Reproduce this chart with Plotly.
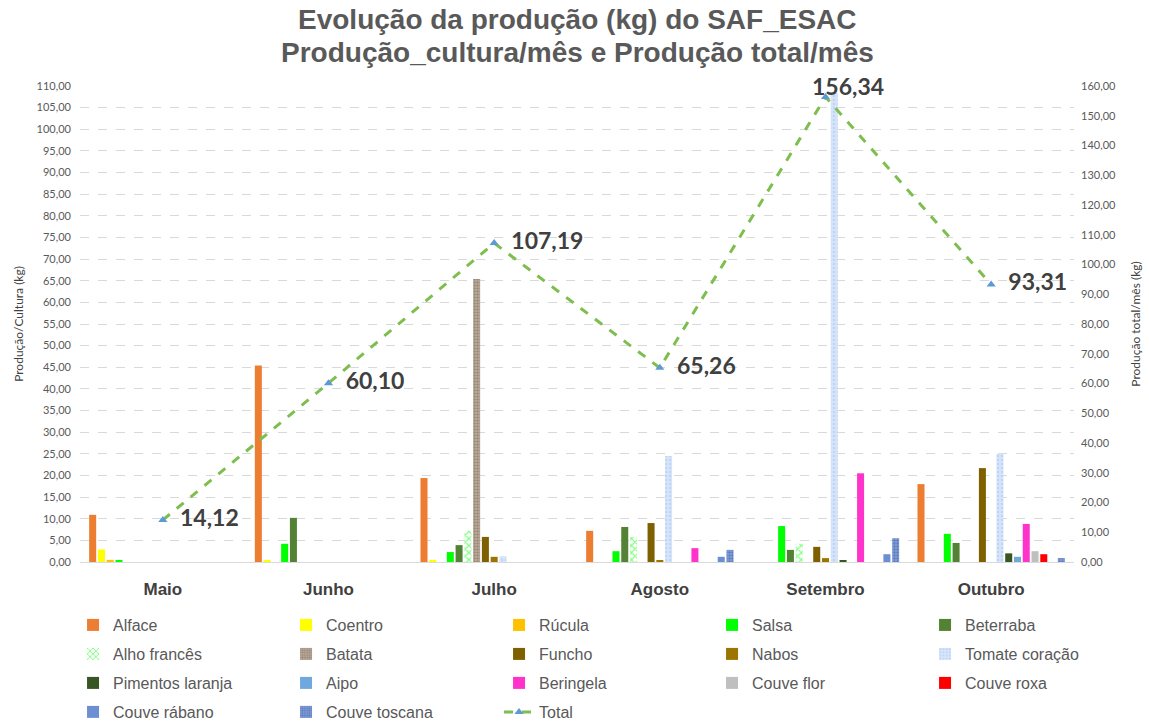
import plotly.graph_objects as go

meses = ["Maio", "Junho", "Julho", "Agosto", "Setembro", "Outubro"]

culturas = [
    "Alface", "Coentro", "Rúcula", "Salsa", "Beterraba", "Alho francês",
    "Batata", "Funcho", "Nabos", "Tomate coração", "Pimentos laranja",
    "Aipo", "Beringela", "Couve flor", "Couve roxa", "Couve rábano",
    "Couve toscana",
]

# kg por cultura, por mês (Maio..Outubro)
alface = [10.9, 45.4, 19.4, 7.2, 0, 18.0]
coentro = [2.9, 0.3, 0.3, 0, 0, 0]
rucula = [0.5, 0, 0, 0, 0, 0]
salsa = [0.3, 4.2, 2.3, 2.5, 8.3, 6.5]
beterraba = [0, 10.2, 3.9, 8.1, 2.8, 4.4]
alho_frances = [0, 0, 7.2, 5.8, 4.2, 0]
batata = [0, 0, 65.4, 0, 0, 0]
funcho = [0, 0, 5.8, 9.0, 3.5, 21.7]
nabos = [0, 0, 1.2, 0.3, 0.9, 0]
tomate = [0, 0, 1.3, 24.5, 108.4, 25.0]
pimentos = [0, 0, 0, 0, 0.3, 2.0]
aipo = [0, 0, 0, 0, 0, 1.2]
beringela = [0, 0, 0, 3.2, 20.5, 8.8]
couve_flor = [0, 0, 0, 0, 0, 2.5]
couve_roxa = [0, 0, 0, 0, 0, 1.8]
couve_rabano = [0, 0, 0, 1.2, 1.8, 0]
couve_toscana = [0, 0, 0, 2.8, 5.5, 0.9]

total = [14.12, 60.10, 107.19, 65.26, 156.34, 93.31]

titulo = [
    "Evolução da produção (kg) do SAF_ESAC",
    "Produção_cultura/mês e Produção total/mês",
]

valores = [
    alface, coentro, rucula, salsa, beterraba, alho_frances, batata, funcho,
    nabos, tomate, pimentos, aipo, beringela, couve_flor, couve_roxa,
    couve_rabano, couve_toscana,
]

cores = [
    "#ED7D31", "#FFFF00", "#FFC000", "#00FF00", "#548235", "#00FF00",
    "#A89584", "#7F6000", "#9C7400", "#C9DAF8", "#375623", "#6FA8DC",
    "#FF33CC", "#BFBFBF", "#FF0000", "#6C8FD3", "#4472C4",
]

# padrões de preenchimento (como no Excel)
padroes = {
    "Alho francês": dict(shape="x", fgcolor="#00FF00", bgcolor="white", size=5, solidity=0.4),
    "Batata": dict(shape=".", fgcolor="#6E5E50", bgcolor="#B8A898", size=3, solidity=0.4),
    "Tomate coração": dict(shape=".", fgcolor="#A9C4F0", bgcolor="#D6E4FA", size=4, solidity=0.3),
    "Couve toscana": dict(shape=".", fgcolor="#2F528F", bgcolor="#7D9BD8", size=3, solidity=0.4),
}

# legenda em 4 linhas de 5 itens, como no Excel
legend_ids = ["legend", "legend2", "legend3", "legend4"]

label_font = dict(family="Lato", size=23, color="#404040", weight="bold")

fig = go.Figure()

for i, (nome, vals, cor) in enumerate(zip(culturas, valores, cores)):
    marker = dict(color=cor, line=dict(width=0))
    if nome in padroes:
        marker["pattern"] = padroes[nome]
    fig.add_trace(go.Bar(
        x=meses,
        y=vals,
        name=nome,
        marker=marker,
        yaxis="y",
        legend=legend_ids[i // 5],
    ))

# o rótulo de Setembro fica acima do ponto (anotação abaixo)
i_max = total.index(max(total))
templates = ["  %{y:.2f}"] * len(total)
templates[i_max] = ""

fig.add_trace(go.Scatter(
    x=meses,
    y=total,
    name="Total",
    mode="lines+markers+text",
    yaxis="y2",
    legend="legend4",
    line=dict(color="#7DBE4E", width=3, dash="dash"),
    marker=dict(symbol="triangle-up", size=8, color="#5B9BD5"),
    texttemplate=templates,
    textposition="middle right",
    textfont=label_font,
    cliponaxis=False,
))

legend_style = dict(
    orientation="h",
    x=-0.007,
    xanchor="left",
    yanchor="middle",
    entrywidth=168,
    entrywidthmode="pixels",
    font=dict(family="Liberation Sans", size=16, color="#595959"),
    itemwidth=30,
    bgcolor="rgba(0,0,0,0)",
)
row_y = [-0.1324, -0.1933, -0.2542, -0.3151]
legends = {lid: dict(legend_style, y=y) for lid, y in zip(legend_ids, row_y)}

titulo_y = [1.1387, 1.0714]
anotacoes = [
    dict(
        text=linha,
        xref="paper", yref="paper",
        x=0.5, y=y,
        xanchor="center", yanchor="middle",
        showarrow=False,
        font=dict(family="Liberation Sans", size=28, color="#595959", weight="bold"),
    )
    for linha, y in zip(titulo, titulo_y)
]
anotacoes.append(dict(
    text=f"{total[i_max]:.2f}".replace(".", ","),
    xref="x", yref="y2",
    x=meses[i_max], y=total[i_max],
    xanchor="center", yanchor="middle",
    xshift=22, yshift=11,
    showarrow=False,
    font=label_font,
))

fig.update_layout(
    width=1149,
    height=722,
    paper_bgcolor="white",
    plot_bgcolor="white",
    separators=",.",
    barmode="group",
    bargap=0.1,
    bargroupgap=0.2,
    margin=dict(l=80, r=75, t=86, b=160, autoexpand=False),
    xaxis=dict(
        tickfont=dict(family="Liberation Sans", size=17, color="#404040", weight="bold"),
        showline=True,
        linecolor="#D9D9D9",
        linewidth=1,
        ticks="",
        ticklabelstandoff=12,
    ),
    yaxis=dict(
        range=[0, 110],
        dtick=5,
        tickformat=".2f",
        tickfont=dict(family="Lato", size=11, color="#595959"),
        ticklabelstandoff=8,
        showgrid=True,
        gridcolor="#D9D9D9",
        griddash="dash",
        zeroline=False,
        title=dict(
            text="Produção/Cultura (kg)",
            font=dict(family="Lato", size=12, color="#404040"),
            standoff=10,
        ),
    ),
    yaxis2=dict(
        range=[0, 160],
        dtick=10,
        tickformat=".2f",
        overlaying="y",
        side="right",
        showgrid=False,
        zeroline=False,
        tickfont=dict(family="Lato", size=11, color="#595959"),
        ticklabelstandoff=6,
        title=dict(
            text="Produção total/mês (kg)",
            font=dict(family="Lato", size=12, color="#404040"),
            standoff=16,
        ),
    ),
    annotations=anotacoes,
    **legends,
)

# sem a margem de 8px do <body>, a figura ocupa a janela toda
fig.write_html(
    "out.html",
    config={"displayModeBar": False},
    post_script="document.body.style.margin = '0';",
)
